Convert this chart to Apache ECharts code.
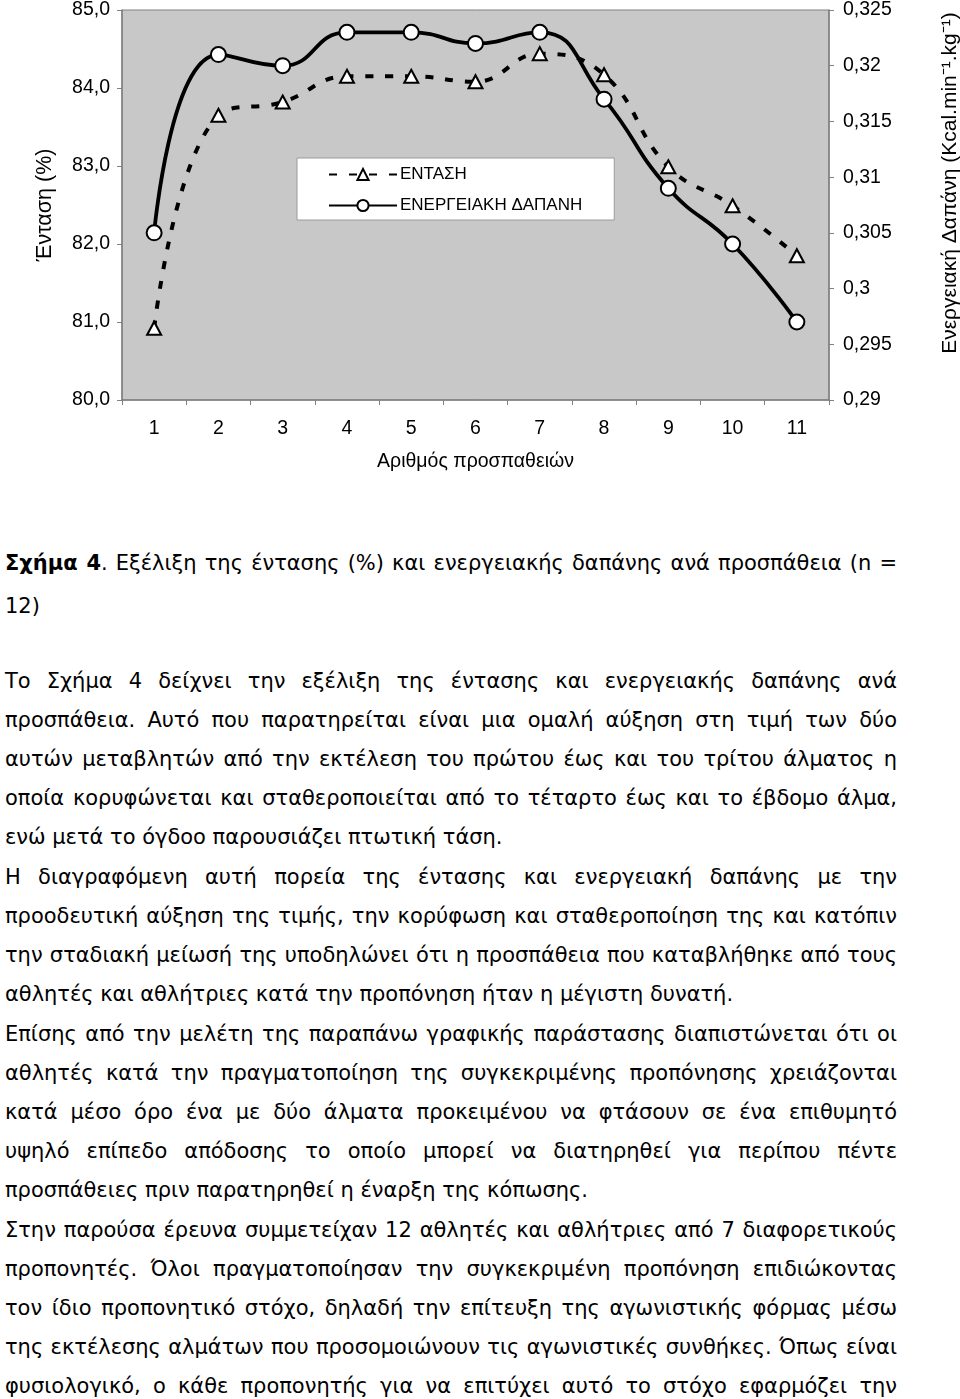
<!DOCTYPE html>
<html>
<head>
<meta charset="utf-8">
<script src="https://cdn.jsdelivr.net/npm/echarts@6/dist/echarts.min.js"></script>
<style>
  html, body { margin:0; padding:0; background:#fff; }
  #page { position:relative; width:960px; height:1399px; overflow:hidden; }
  #chart { position:absolute; left:0; top:0; width:960px; height:480px; }
  .ln { position:absolute; left:5px; height:26px; line-height:26px; white-space:nowrap;
        font-family:"DejaVu Sans", Verdana, sans-serif; font-size:22px; color:#000;
        transform-origin:0 50%; }
</style>
</head>
<body>
<div id="page">
  <div id="chart"></div>
</div>
<script>
// ---- chart data ----
const attempts = ['1','2','3','4','5','6','7','8','9','10','11'];
const intensity = [80.92, 83.65, 83.82, 84.15, 84.15, 84.08, 84.44, 84.17, 82.99, 82.49, 81.85];
const energy = [0.305, 0.321, 0.320, 0.323, 0.323, 0.322, 0.323, 0.317, 0.309, 0.304, 0.297];
const seriesNames = ['ΕΝΤΑΣΗ', 'ΕΝΕΡΓΕΙΑΚΗ ΔΑΠΑΝΗ'];
const xName = 'Αριθμός προσπαθειών';
const yLeftName = 'Ένταση (%)';
const yRightName = 'Ενεργειακή Δαπάνη (Kcal.min\u207B\u00B9.kg\u207B\u00B9)';

// ---- body text ----
const captionLine1 = [{t:'Σχήμα 4', b:true}, {t:'. Εξέλιξη της έντασης (%) και ενεργειακής δαπάνης ανά προσπάθεια (n =', b:false}];
const captionLine2 = '12)';
const paragraphs = [
 ["Το Σχήμα 4 δείχνει την εξέλιξη της έντασης και ενεργειακής δαπάνης ανά",
  "προσπάθεια. Αυτό που παρατηρείται είναι μια ομαλή αύξηση στη τιμή των δύο",
  "αυτών μεταβλητών από την εκτέλεση του πρώτου έως και του τρίτου άλματος η",
  "οποία κορυφώνεται και σταθεροποιείται από το τέταρτο έως και το έβδομο άλμα,",
  "ενώ μετά το όγδοο παρουσιάζει πτωτική τάση."],
 ["Η διαγραφόμενη αυτή πορεία της έντασης και ενεργειακή δαπάνης με την",
  "προοδευτική αύξηση της τιμής, την κορύφωση και σταθεροποίηση της και κατόπιν",
  "την σταδιακή μείωσή της υποδηλώνει ότι η προσπάθεια που καταβλήθηκε από τους",
  "αθλητές και αθλήτριες κατά την προπόνηση ήταν η μέγιστη δυνατή."],
 ["Επίσης από την μελέτη της παραπάνω γραφικής παράστασης διαπιστώνεται ότι οι",
  "αθλητές κατά την πραγματοποίηση της συγκεκριμένης προπόνησης χρειάζονται",
  "κατά μέσο όρο ένα με δύο άλματα προκειμένου να φτάσουν σε ένα επιθυμητό",
  "υψηλό επίπεδο απόδοσης το οποίο μπορεί να διατηρηθεί για περίπου πέντε",
  "προσπάθειες πριν παρατηρηθεί η έναρξη της κόπωσης."],
 ["Στην παρούσα έρευνα συμμετείχαν 12 αθλητές και αθλήτριες από 7 διαφορετικούς",
  "προπονητές. Όλοι πραγματοποίησαν την συγκεκριμένη προπόνηση επιδιώκοντας",
  "τον ίδιο προπονητικό στόχο, δηλαδή την επίτευξη της αγωνιστικής φόρμας μέσω",
  "της εκτέλεσης αλμάτων που προσομοιώνουν τις αγωνιστικές συνθήκες. Όπως είναι",
  "φυσιολογικό, ο κάθε προπονητής για να επιτύχει αυτό το στόχο εφαρμόζει την"]
];
const lastLineContinues = [false, false, false, true];

// ---- chart ----
const FONT = '"Liberation Sans", Arial, sans-serif';
const AX = '#808080';
const chart = echarts.init(document.getElementById('chart'), null, {renderer:'canvas'});
chart.setOption({
  animation:false,
  backgroundColor:'transparent',
  textStyle:{fontFamily:FONT, color:'#000'},
  grid:{left:122, top:10, width:707, height:390, show:true, backgroundColor:'#c8c8c8',
        borderColor:AX, borderWidth:1, containLabel:false},
  legend:{
    orient:'vertical', left:297, top:158,
    backgroundColor:'#fff', borderColor:'#9a9a9a', borderWidth:1,
    padding:[8,32,6,31], itemWidth:68, itemHeight:14, itemGap:14,
    textStyle:{fontSize:17, color:'#000', fontFamily:FONT, padding:[0,0,0,-2]},
    data:seriesNames
  },
  xAxis:{
    type:'category', data:attempts, boundaryGap:true,
    axisLine:{lineStyle:{color:AX, width:1.5}},
    axisTick:{show:true, length:5, lineStyle:{color:AX, width:1}},
    axisLabel:{color:'#000', fontSize:19.5, margin:19, fontFamily:FONT},
    splitLine:{show:false},
    name:xName, nameLocation:'middle', nameGap:52,
    nameTextStyle:{color:'#000', fontSize:19.5, fontFamily:FONT}
  },
  yAxis:[
    { type:'value', position:'left', min:80, max:85, interval:1,
      axisLine:{show:true, lineStyle:{color:AX, width:1.5}},
      axisTick:{show:true, length:5, lineStyle:{color:AX}},
      axisLabel:{color:'#000', fontSize:19.5, margin:12, fontFamily:FONT,
                 formatter:v => v.toFixed(1).replace('.', ',')},
      splitLine:{show:false},
      name:yLeftName, nameLocation:'middle', nameRotate:90, nameGap:66,
      nameTextStyle:{color:'#000', fontSize:21.5, fontFamily:FONT}
    },
    { type:'value', position:'right', min:0.29, max:0.325, interval:0.005,
      axisLine:{show:true, lineStyle:{color:AX, width:1.5}},
      axisTick:{show:true, length:5, lineStyle:{color:AX}},
      axisLabel:{color:'#000', fontSize:19.5, margin:14, fontFamily:FONT,
                 formatter:v => String(parseFloat(v.toFixed(3))).replace('.', ',')},
      splitLine:{show:false}
    }
  ],
  graphic:[{
    type:'text', x:950, y:183, rotation:Math.PI/2,
    style:{text:yRightName, fontSize:21, fontFamily:FONT, fill:'#000', align:'center', verticalAlign:'middle'}
  }],
  series:[
    { name:seriesNames[0], type:'line', yAxisIndex:0, data:intensity, smooth:0.45,
      symbol:'triangle', symbolSize:[14,13],
      lineStyle:{color:'#000', width:4, type:[8,12]},
      itemStyle:{color:'#fff', borderColor:'#000', borderWidth:2}, z:3 },
    { name:seriesNames[1], type:'line', yAxisIndex:1, data:energy, smooth:0.5,
      symbol:'circle', symbolSize:15,
      lineStyle:{color:'#000', width:3.8, type:'solid'},
      itemStyle:{color:'#fff', borderColor:'#000', borderWidth:2}, z:4 }
  ]
});

// ---- text layout ----
const page = document.getElementById('page');
const cv = document.createElement('canvas').getContext('2d');
const FS = 22;
function measure(parts){
  let w = 0;
  for (const p of parts){
    cv.font = (p.b ? 'bold ' : '') + FS + 'px "DejaVu Sans", Verdana, sans-serif';
    w += cv.measureText(p.t).width;
  }
  return w;
}
const FULL = 892;
const scale = 583 / measure([{t:paragraphs[2][4], b:false}]);

function addLine(parts, cy, justify){
  const d = document.createElement('div');
  d.className = 'ln';
  d.style.top = (cy - 13) + 'px';
  for (const p of parts){
    const sp = document.createElement('span');
    sp.textContent = p.t;
    if (p.b) sp.style.fontWeight = 'bold';
    d.appendChild(sp);
  }
  const w = measure(parts);
  if (justify){
    const gaps = parts.map(p => p.t).join('').split(' ').length - 1;
    const natural = w * scale;
    if (natural <= FULL && gaps > 0){
      d.style.wordSpacing = ((FULL / scale - w) / gaps) + 'px';
      d.style.transform = 'scaleX(' + scale + ')';
    } else {
      d.style.transform = 'scaleX(' + (FULL / w) + ')';
    }
  } else {
    d.style.transform = 'scaleX(' + scale + ')';
  }
  page.appendChild(d);
}

addLine(captionLine1, 563, true);
addLine([{t:captionLine2, b:false}], 606, false);

const LH = 38.9, START = 681, PGAP = 1.5;
let idx = 0;
paragraphs.forEach((para, pi) => {
  para.forEach((line, li) => {
    const cy = START + idx * LH + pi * PGAP;
    const isLast = li === para.length - 1;
    addLine([{t:line, b:false}], cy, !isLast || lastLineContinues[pi]);
    idx++;
  });
});
</script>
</body>
</html>
